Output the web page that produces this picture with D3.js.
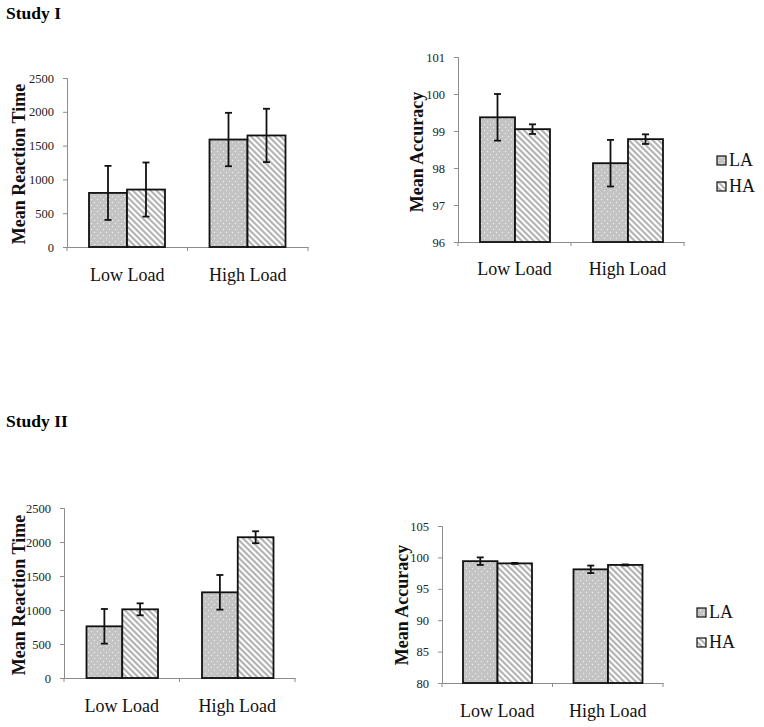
<!DOCTYPE html>
<html>
<head>
<meta charset="utf-8">
<script src="https://cdn.jsdelivr.net/npm/d3@7"></script>
<style>
html,body{margin:0;padding:0;background:#fff;}
svg{display:block;}
svg text{font-family:"Liberation Serif","Times New Roman",serif !important;}
</style>
</head>
<body>
<svg id="chart" width="764" height="727"></svg>
<script>
// ---- data ----
const categories = ["Low Load", "High Load"];
const seriesNames = ["LA", "HA"];
const studyTitles = ["Study I", "Study II"];

const rt1LA = [800, 1590], rt1LAerr = [400, 395];
const rt1HA = [850, 1650], rt1HAerr = [400, 395];
const acc1LA = [99.37, 98.13], acc1LAerr = [0.63, 0.63];
const acc1HA = [99.05, 98.78], acc1HAerr = [0.13, 0.13];

const rt2LA = [760, 1260], rt2LAerr = [255, 255];
const rt2HA = [1010, 2070], rt2HAerr = [88, 88];
const acc2LA = [99.4, 98.1], acc2LAerr = [0.6, 0.6];
const acc2HA = [99.05, 98.8], acc2HAerr = [0.08, 0.08];

const rtTicks = [0, 500, 1000, 1500, 2000, 2500];
const acc1Ticks = [96, 97, 98, 99, 100, 101];
const acc2Ticks = [80, 85, 90, 95, 100, 105];

// ---- drawing ----
const svg = d3.select("#chart");
const defs = svg.append("defs");

const dots = defs.append("pattern").attr("id", "dots")
  .attr("patternUnits", "userSpaceOnUse").attr("width", 6).attr("height", 6);
dots.append("rect").attr("width", 6).attr("height", 6).attr("fill", "#c3c3c3");
dots.append("circle").attr("cx", 1.5).attr("cy", 1.5).attr("r", 0.7).attr("fill", "#ececec");
dots.append("circle").attr("cx", 4.5).attr("cy", 4.5).attr("r", 0.7).attr("fill", "#ececec");

const stripes = defs.append("pattern").attr("id", "stripes")
  .attr("patternUnits", "userSpaceOnUse").attr("width", 4.2).attr("height", 4.2)
  .attr("patternTransform", "rotate(-45)");
stripes.append("rect").attr("width", 4.2).attr("height", 4.2).attr("fill", "#fff");
stripes.append("line").attr("x1", 1.2).attr("x2", 1.2).attr("y1", 0).attr("y2", 4.2)
  .attr("stroke", "#a8a8a8").attr("stroke-width", 1.9);

const fills = {LA: "url(#dots)", HA: "url(#stripes)"};

function drawPanel(cfg) {
  const {x0r, y0r, domain, ticks, inner, la, laErr, ha, haErr, ylabel, ylabelPos, catY, legend} = cfg;
  const x0 = d3.scaleBand().domain(categories).range(x0r).padding(0);
  const x1 = d3.scaleBand().domain(seriesNames).range(inner).padding(0);
  const y = d3.scaleLinear().domain(domain).range(y0r);
  const g = svg.append("g");

  // y axis
  const ya = g.append("g").attr("transform", `translate(${x0r[0]},0)`)
    .call(d3.axisLeft(y).tickValues(ticks).tickSize(4).tickPadding(9).tickFormat(d3.format("d")));
  ya.attr("font-family", null).attr("font-size", null);
  ya.select(".domain").attr("stroke", "#8c8c8c").attr("stroke-width", 1);
  ya.selectAll(".tick line").attr("stroke", "#8c8c8c");
  ya.selectAll(".tick text").style("font-size", "12.5px").attr("fill", "#222");

  // x axis
  const xa = g.append("g").attr("transform", `translate(0,${y0r[0]})`)
    .call(d3.axisBottom(x0).tickSize(0).tickFormat(""));
  xa.select(".domain").attr("stroke", "#8c8c8c").attr("stroke-width", 1);
  const boundaries = [x0r[0], x0(categories[1]), x0r[1]];
  g.selectAll(".xt").data(boundaries).join("line")
    .attr("x1", d => d).attr("x2", d => d)
    .attr("y1", y0r[0]).attr("y2", y0r[0] + 4)
    .attr("stroke", "#8c8c8c");

  g.selectAll(".cat").data(categories).join("text")
    .attr("x", d => x0(d) + x0.bandwidth() / 2).attr("y", catY)
    .attr("text-anchor", "middle").style("font-size", "18px").attr("fill", "#111")
    .text(d => d);

  const rows = [];
  categories.forEach((c, i) => {
    rows.push({cat: c, s: "LA", v: la[i], e: laErr[i]});
    rows.push({cat: c, s: "HA", v: ha[i], e: haErr[i]});
  });

  g.selectAll(".bar").data(rows).join("rect")
    .attr("x", d => x0(d.cat) + x1(d.s))
    .attr("y", d => y(d.v))
    .attr("width", x1.bandwidth())
    .attr("height", d => y(domain[0]) - y(d.v))
    .attr("fill", d => fills[d.s])
    .attr("stroke", "#111").attr("stroke-width", 1.8);

  const eb = g.selectAll(".eb").data(rows).join("g");
  const cx = d => x0(d.cat) + x1(d.s) + x1.bandwidth() / 2;
  eb.append("line").attr("x1", cx).attr("x2", cx)
    .attr("y1", d => y(d.v - d.e)).attr("y2", d => y(d.v + d.e))
    .attr("stroke", "#111").attr("stroke-width", 1.8);
  [-1, 1].forEach(sgn => {
    eb.append("line").attr("x1", d => cx(d) - 3.5).attr("x2", d => cx(d) + 3.5)
      .attr("y1", d => y(d.v + sgn * d.e)).attr("y2", d => y(d.v + sgn * d.e))
      .attr("stroke", "#111").attr("stroke-width", 1.8);
  });

  g.append("text")
    .attr("transform", `translate(${ylabelPos[0]},${ylabelPos[1]}) rotate(-90)`)
    .attr("text-anchor", "middle").attr("dominant-baseline", "central")
    .style("font-size", "18px").style("font-weight", "bold").attr("fill", "#111")
    .text(ylabel);

  if (legend) {
    const lg = g.append("g");
    seriesNames.forEach((s, i) => {
      lg.append("rect").attr("x", legend.x).attr("y", legend.y + i * legend.dy - 10)
        .attr("width", 9).attr("height", 9)
        .attr("fill", fills[s]).attr("stroke", "#111").attr("stroke-width", 1.2);
      lg.append("text").attr("x", legend.x + 12).attr("y", legend.y + i * legend.dy)
        .style("font-size", "18px").attr("fill", "#111").text(s);
    });
  }
}

svg.append("text").attr("x", 6).attr("y", 19).style("font-size", "17.5px").style("font-weight", "bold").text(studyTitles[0]);
svg.append("text").attr("x", 6).attr("y", 427).style("font-size", "17.5px").style("font-weight", "bold").text(studyTitles[1]);

drawPanel({x0r: [67, 308], y0r: [247, 78], domain: [0, 2500], ticks: rtTicks, inner: [22, 98],
  la: rt1LA, laErr: rt1LAerr, ha: rt1HA, haErr: rt1HAerr,
  ylabel: "Mean Reaction Time", ylabelPos: [19, 164], catY: 281});
drawPanel({x0r: [458, 684], y0r: [242, 57], domain: [96, 101], ticks: acc1Ticks, inner: [22, 92],
  la: acc1LA, laErr: acc1LAerr, ha: acc1HA, haErr: acc1HAerr,
  ylabel: "Mean Accuracy", ylabelPos: [417, 152], catY: 275,
  legend: {x: 717, y: 166, dy: 26}});
drawPanel({x0r: [64, 295], y0r: [678, 508], domain: [0, 2500], ticks: rtTicks, inner: [22.5, 94],
  la: rt2LA, laErr: rt2LAerr, ha: rt2HA, haErr: rt2HAerr,
  ylabel: "Mean Reaction Time", ylabelPos: [19, 595], catY: 712});
drawPanel({x0r: [442, 663], y0r: [683, 526], domain: [80, 105], ticks: acc2Ticks, inner: [21, 90],
  la: acc2LA, laErr: acc2LAerr, ha: acc2HA, haErr: acc2HAerr,
  ylabel: "Mean Accuracy", ylabelPos: [402, 605], catY: 717,
  legend: {x: 697, y: 618, dy: 30}});
</script>
</body>
</html>
